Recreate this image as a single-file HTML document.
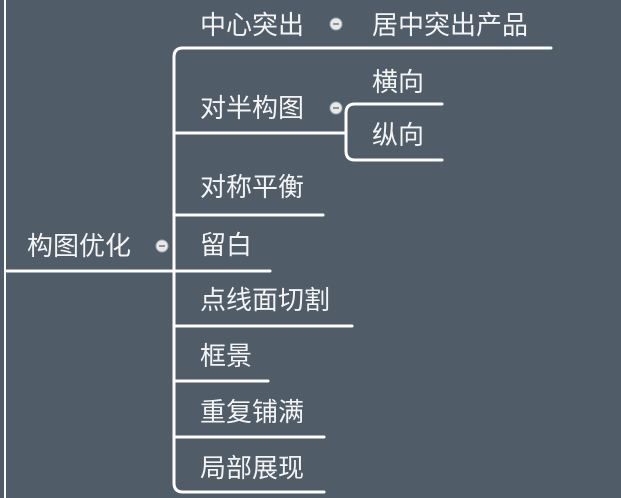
<!DOCTYPE html>
<html><head><meta charset="utf-8"><style>
html,body{margin:0;padding:0;background:#505c68;}
svg{display:block}
text{font-family:"Liberation Sans","Noto Sans CJK SC",sans-serif;font-size:26px;fill:#f4f4f4;dominant-baseline:central;}
</style></head><body>
<svg width="621" height="498" viewBox="0 0 621 498">
<rect width="621" height="498" fill="#505c68"/>
<g stroke="#fdfdfd" stroke-width="3" fill="none" stroke-linecap="round">
<line x1="5" y1="0" x2="5" y2="498" stroke-width="2"/>
<line x1="7" y1="271" x2="172" y2="271"/>
<path d="M325 48 H183 Q174 48 174 57 V483 Q174 492 183 492 H324"/>
<line x1="174" y1="133" x2="346" y2="133"/>
<line x1="174" y1="215" x2="323" y2="215"/>
<line x1="174" y1="271" x2="270" y2="271"/>
<line x1="174" y1="326" x2="352" y2="326"/>
<line x1="174" y1="381" x2="268" y2="381"/>
<line x1="174" y1="437" x2="324" y2="437"/>
<line x1="320" y1="48" x2="551" y2="48"/>
<path d="M442 104 H355 Q346 104 346 113 V151 Q346 160 355 160 H442"/>
</g>
<g fill="#e8e8ea" stroke="#9aa" stroke-width="1">
<circle cx="336" cy="24" r="6"/><circle cx="336" cy="108" r="6"/><circle cx="162" cy="246" r="6"/>
</g>
<g stroke="#777" stroke-width="1.5">
<line x1="333" y1="24" x2="339" y2="24"/><line x1="333" y1="108" x2="339" y2="108"/><line x1="159" y1="246" x2="165" y2="246"/>
</g>
<text x="200" y="25">中心突出</text>
<text x="372" y="25">居中突出产品</text>
<text x="200" y="108">对半构图</text>
<text x="372" y="82">横向</text>
<text x="372" y="135">纵向</text>
<text x="200" y="187">对称平衡</text>
<text x="27" y="246">构图优化</text>
<text x="200" y="245">留白</text>
<text x="200" y="300">点线面切割</text>
<text x="200" y="356">框景</text>
<text x="200" y="412">重复铺满</text>
<text x="200" y="468">局部展现</text>
</svg>
</body></html>
